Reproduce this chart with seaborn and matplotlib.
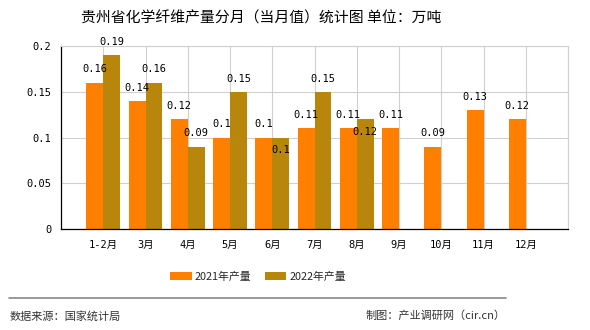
import matplotlib
matplotlib.use("Agg")
import matplotlib.pyplot as plt
import seaborn as sns
import pandas as pd
import numpy as np
from matplotlib.patches import Patch

months = ["1-2月", "3月", "4月", "5月", "6月", "7月", "8月", "9月", "10月", "11月", "12月"]
v2021 = [0.16, 0.14, 0.12, 0.1, 0.1, 0.11, 0.11, 0.11, 0.09, 0.13, 0.12]
v2022 = [0.19, 0.16, 0.09, 0.15, 0.1, 0.15, 0.12, np.nan, np.nan, np.nan, np.nan]
series = ["2021年产量", "2022年产量"]
colors = ["#FF8000", "#B8860B"]
yticks = [0, 0.05, 0.1, 0.15, 0.2]
ytick_labels = ["0", "0.05", "0.1", "0.15", "0.2"]
title = "贵州省化学纤维产量分月（当月值）统计图 单位：万吨"

df = pd.DataFrame({
    "月份": months * 2,
    "值": v2021 + v2022,
    "系列": [series[0]] * len(months) + [series[1]] * len(months),
})

sns.set_theme(style="white")
plt.rcParams["font.family"] = ["Noto Sans CJK SC", "DejaVu Sans"]
MONO = ["DejaVu Sans Mono", "Noto Sans CJK SC"]

fig = plt.figure(figsize=(5.9, 3.3), dpi=100)
ax = fig.add_axes([61/590, 1-229/330, (568-61)/590, (229-46)/330])

sns.barplot(data=df, x="月份", y="值", hue="系列", order=months, hue_order=series,
            palette=colors, width=0.8, dodge=True, ax=ax, legend=False,
            saturation=1, linewidth=0, errorbar=None)

ax.set_xlim(-1, len(months))
ax.set_ylim(0, 0.2)
ax.set_xticks(range(-1, len(months) + 1))
ax.set_xticklabels([""] + months + [""], fontsize=7.5, family=MONO)
ax.set_yticks(yticks)
ax.set_yticklabels(ytick_labels, fontsize=7.5, family=MONO)
ax.set_xlabel("")
ax.set_ylabel("")
ax.grid(True, color="#d0d0d0", linewidth=0.8)
ax.set_axisbelow(True)
for s in ["top", "right"]:
    ax.spines[s].set_color("#d0d0d0")
    ax.spines[s].set_linewidth(0.8)
for s in ["left", "bottom"]:
    ax.spines[s].set_color("black")
    ax.spines[s].set_linewidth(0.9)
ax.tick_params(axis="both", which="both", length=4, width=0.8, color="black", direction="out",
               colors="black", pad=3)
ax.tick_params(axis="x", pad=4)

# value labels
below = {(1, 4), (1, 6)}
for si, cont in enumerate(ax.containers):
    vals = [v2021, v2022][si]
    for i, bar in enumerate(cont.patches):
        v = vals[i]
        if v is None or (isinstance(v, float) and np.isnan(v)):
            continue
        x = bar.get_x() + bar.get_width() / 2
        txt = f"{v:g}"
        dy = -9 if (si, i) in below else 9.5
        ax.annotate(txt, (x, v), xytext=(0, dy), textcoords="offset points",
                    ha="center", va="center", fontsize=7.5, color="black", family=MONO)

fig.text(261/590, 1-18/330, title, ha="center", va="center", fontsize=10.7, color="black")

# legend
handles = [Patch(facecolor=c, edgecolor="none") for c in colors]
fig.legend(handles, series, loc="center", bbox_to_anchor=(258/590, 1-277/330), ncol=2,
           frameon=False, fontsize=7.8, handlelength=2.0, handleheight=0.8,
           columnspacing=1.2, handletextpad=0.3)

fig.add_artist(plt.Line2D([9/590, 506/590], [1-298/330, 1-298/330], color="#888888", linewidth=1.2,
                          transform=fig.transFigure))
fig.text(10/590, 1-316/330, "数据来源：国家统计局", ha="left", va="center", fontsize=8, color="#333333")
fig.text(506/590, 1-316/330, "制图：产业调研网（cir.cn）", ha="right", va="center", fontsize=8, color="#333333")

fig.savefig("out.png", dpi=100)
